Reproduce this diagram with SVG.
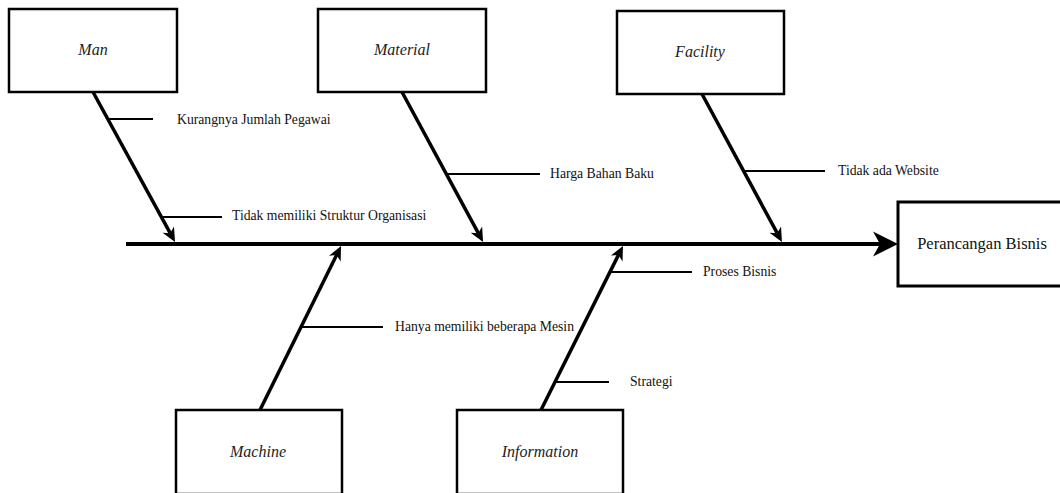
<svg xmlns="http://www.w3.org/2000/svg" width="1060" height="493" viewBox="0 0 1060 493">
<style>
.box{fill:#fff;stroke:#000;stroke-width:2.5}
.bone{stroke:#000;stroke-width:3.5;fill:none}
.sub{stroke:#000;stroke-width:2;fill:none}
.spine{stroke:#000;stroke-width:4;fill:none}
</style>
<defs>
<marker id="ah" markerUnits="userSpaceOnUse" markerWidth="20" markerHeight="20" refX="4" refY="0" orient="auto" overflow="visible">
<path d="M0,-6.5 L14,0 L0,6.5 L4,0 Z" fill="#000"/>
</marker>
<marker id="bigah" markerUnits="userSpaceOnUse" markerWidth="30" markerHeight="30" refX="7" refY="0" orient="auto" overflow="visible">
<path d="M0,-12.5 L25,0 L0,12.5 L7,0 Z" fill="#000"/>
</marker>
</defs>
<g id="connectors">
<line class="spine" x1="126" y1="244" x2="880" y2="244" marker-end="url(#bigah)"/>
<line class="bone" x1="93" y1="92" x2="170.2" y2="233.2" marker-end="url(#ah)"/>
<line class="bone" x1="402" y1="92" x2="478.3" y2="233.2" marker-end="url(#ah)"/>
<line class="bone" x1="702" y1="94" x2="777.2" y2="233.2" marker-end="url(#ah)"/>
<line class="bone" x1="260" y1="410" x2="336.6" y2="255" marker-end="url(#ah)"/>
<line class="bone" x1="541" y1="410" x2="618.5" y2="254.9" marker-end="url(#ah)"/>
<line class="sub" x1="108" y1="119" x2="153" y2="119"/>
<line class="sub" x1="162" y1="217" x2="222" y2="217"/>
<line class="sub" x1="445" y1="174" x2="540" y2="174"/>
<line class="sub" x1="744" y1="171" x2="825" y2="171"/>
<line class="sub" x1="301" y1="327" x2="383" y2="327"/>
<line class="sub" x1="610" y1="272" x2="692" y2="272"/>
<line class="sub" x1="555" y1="382" x2="609" y2="382"/>
</g>
<g id="labels">
<text font-family="Liberation Serif" font-size="13.7" fill="#111" x="177" y="124">Kurangnya Jumlah Pegawai</text>
<text font-family="Liberation Serif" font-size="13.7" fill="#111" x="232" y="220">Tidak memiliki Struktur Organisasi</text>
<text font-family="Liberation Serif" font-size="13.7" fill="#111" x="550" y="178">Harga Bahan Baku</text>
<text font-family="Liberation Serif" font-size="13.7" fill="#111" x="838" y="175">Tidak ada Website</text>
<text font-family="Liberation Serif" font-size="13.7" fill="#111" x="395" y="331">Hanya memiliki beberapa Mesin</text>
<text font-family="Liberation Serif" font-size="13.7" fill="#111" x="703" y="276">Proses Bisnis</text>
<text font-family="Liberation Serif" font-size="13.7" fill="#111" x="630" y="386">Strategi</text>
</g>
<g id="man">
<rect class="box" x="9" y="9" width="168" height="83"/>
<text font-family="Liberation Serif" font-style="italic" font-size="16" fill="#222" x="93" y="55" text-anchor="middle">Man</text>
</g>
<g id="material">
<rect class="box" x="318" y="9" width="168" height="83"/>
<text font-family="Liberation Serif" font-style="italic" font-size="16" fill="#222" x="402" y="55" text-anchor="middle">Material</text>
</g>
<g id="facility">
<rect class="box" x="617" y="11" width="167" height="83"/>
<text font-family="Liberation Serif" font-style="italic" font-size="16" fill="#222" x="700" y="57" text-anchor="middle">Facility</text>
</g>
<g id="machine">
<rect class="box" x="176" y="410" width="166" height="84"/>
<text font-family="Liberation Serif" font-style="italic" font-size="16" fill="#222" x="258" y="457" text-anchor="middle">Machine</text>
</g>
<g id="information">
<rect class="box" x="457" y="410" width="166" height="84"/>
<text font-family="Liberation Serif" font-style="italic" font-size="16" fill="#222" x="540" y="457" text-anchor="middle">Information</text>
</g>
<g id="perancangan-bisnis">
<rect class="box" x="898" y="202" width="175" height="84" style="stroke-width:3"/>
<text font-family="Liberation Serif" font-size="16.5" fill="#111" x="982" y="249" text-anchor="middle">Perancangan Bisnis</text>
</g>
</svg>
